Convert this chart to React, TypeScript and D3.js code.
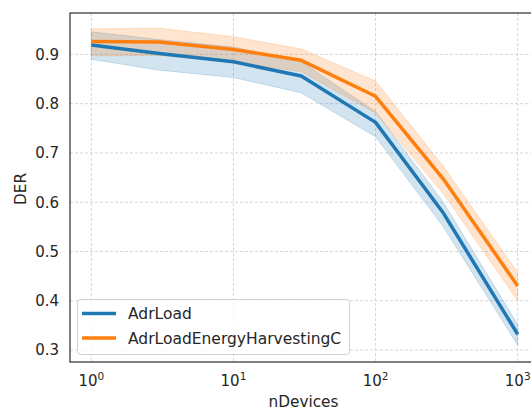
import React from "react";
import * as d3 from "d3";

// nDevices on the x axis (log scale)
const nDevices = [1, 3, 10, 30, 100, 300, 1000];

// AdrLoad: mean and confidence band
const adrMean = [0.919, 0.902, 0.885, 0.856, 0.762, 0.578, 0.332];
const adrLow = [0.89, 0.868, 0.853, 0.822, 0.733, 0.55, 0.31];
const adrHigh = [0.946, 0.93, 0.915, 0.885, 0.784, 0.6, 0.352];

// AdrLoadEnergyHarvestingC: mean and confidence band
const ehMean = [0.926, 0.925, 0.91, 0.888, 0.815, 0.647, 0.43];
const ehLow = [0.897, 0.898, 0.885, 0.865, 0.781, 0.617, 0.4];
const ehHigh = [0.952, 0.953, 0.936, 0.911, 0.846, 0.673, 0.457];

const yTicks = [0.3, 0.4, 0.5, 0.6, 0.7, 0.8, 0.9];
const xTicks = [1, 10, 100, 1000];

const series = [
  { name: "AdrLoad", color: "#1f77b4", mean: adrMean, low: adrLow, high: adrHigh },
  { name: "AdrLoadEnergyHarvestingC", color: "#ff7f0e", mean: ehMean, low: ehLow, high: ehHigh },
];

const W = 531;
const H = 410;
const m = { left: 70, right: 539, top: 13, bottom: 362 };

export default function App() {
  const x = d3.scaleLog().domain([Math.pow(10, -0.15), Math.pow(10, 3.15)]).range([m.left, m.right]);
  const y = d3.scaleLinear().domain([0.2757, 0.984]).range([m.bottom, m.top]);

  const line = (vals: number[]) =>
    d3.line<number>().x((_, i) => x(nDevices[i])).y((d) => y(d))(vals) || "";
  const area = (lo: number[], hi: number[]) =>
    d3
      .area<number>()
      .x((_, i) => x(nDevices[i]))
      .y0((_, i) => y(lo[i]))
      .y1((_, i) => y(hi[i]))(lo) || "";

  const font = "DejaVu Sans, sans-serif";
  const txt = "#262626";

  return (
    <svg width={W} height={H} style={{ position: "absolute", left: 0, top: 0 }} fontFamily={font}>
      <rect x={0} y={0} width={W} height={H} fill="#fff" />
      <defs>
        <clipPath id="plot">
          <rect x={m.left} y={m.top} width={m.right - m.left} height={m.bottom - m.top} />
        </clipPath>
      </defs>
      {/* grid */}
      <g stroke="#cccccc" strokeWidth={0.8} strokeDasharray="3,2">
        {yTicks.map((t) => (
          <line key={t} x1={m.left} x2={m.right} y1={y(t)} y2={y(t)} />
        ))}
        {xTicks.map((t) => (
          <line key={t} x1={x(t)} x2={x(t)} y1={m.top} y2={m.bottom} />
        ))}
      </g>
      <g clipPath="url(#plot)">
        {series.map((s) => (
          <path key={s.name + "band"} d={area(s.low, s.high)} fill={s.color} fillOpacity={0.2} stroke={s.color} strokeOpacity={0.2} strokeWidth={1} />
        ))}
        {series.map((s) => (
          <path key={s.name} d={line(s.mean)} fill="none" stroke={s.color} strokeWidth={3.5} strokeLinejoin="round" strokeLinecap="butt" />
        ))}
      </g>
      {/* spines */}
      <rect x={m.left} y={m.top} width={m.right - m.left} height={m.bottom - m.top} fill="none" stroke="#333" strokeWidth={1.25} />
      {/* y ticks */}
      {yTicks.map((t) => (
        <text key={t} x={59} y={y(t)} dy="0.36em" textAnchor="end" fontSize={15} fill={txt}>
          {t.toFixed(1)}
        </text>
      ))}
      {/* x ticks */}
      {xTicks.map((t) => (
        <text key={t} x={x(t)} y={386} textAnchor="middle" fontSize={15} fill={txt}>
          <tspan>10</tspan>
          <tspan dy={-6.5} fontSize={10.5}>
            {Math.round(Math.log10(t))}
          </tspan>
        </text>
      ))}
      <text x={303.5} y={407} textAnchor="middle" fontSize={15.3} fill={txt}>
        nDevices
      </text>
      <text transform={`translate(26,189) rotate(-90)`} textAnchor="middle" fontSize={15.3} fill={txt}>
        DER
      </text>
      {/* legend */}
      <g>
        <rect x={77.5} y={299.5} width={272} height={55} rx={3} fill="#fff" fillOpacity={0.8} stroke="#d0d0d0" strokeWidth={1} />
        {series.map((s, i) => (
          <g key={s.name} transform={`translate(0,${313.5 + i * 24.5})`}>
            <line x1={82} x2={116} y1={0} y2={0} stroke={s.color} strokeWidth={3.5} />
            <text x={128} y={0} dy="0.36em" fontSize={15.5} fill={txt}>
              {s.name}
            </text>
          </g>
        ))}
      </g>
    </svg>
  );
}
